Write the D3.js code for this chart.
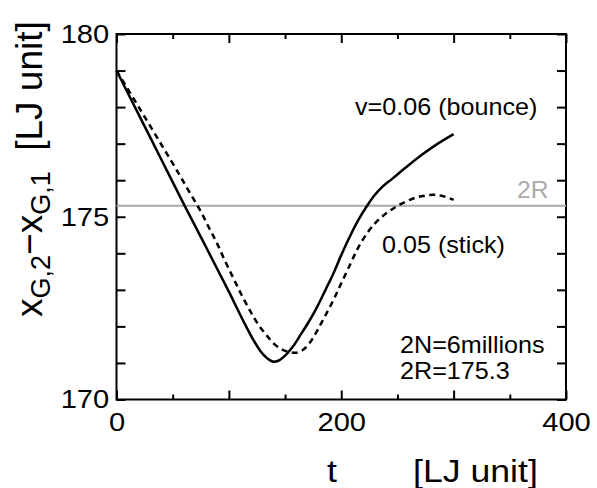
<!DOCTYPE html>
<html>
<head>
<meta charset="utf-8">
<script src="https://cdn.jsdelivr.net/npm/d3@7"></script>
<style>
  html, body { margin: 0; padding: 0; background: #fff; }
  text { font-family: "Liberation Sans", Arial, Helvetica, sans-serif; }
</style>
</head>
<body>
<svg id="chart" width="597" height="488"></svg>
<script>
// ---- data ----
const bounceT = [0, 20, 40, 60, 75, 90, 100, 108, 115, 122, 128, 134, 139, 144, 150, 157, 164, 171, 178, 186, 193, 200, 208, 215, 223, 230, 237, 245, 258, 272, 286, 300];
const bounceX = [179.0, 177.78, 176.56, 175.34, 174.45, 173.55, 172.95, 172.45, 172.02, 171.62, 171.33, 171.13, 171.04, 171.06, 171.2, 171.45, 171.78, 172.12, 172.5, 173.0, 173.45, 173.95, 174.48, 174.9, 175.3, 175.6, 175.83, 176.03, 176.36, 176.7, 177.0, 177.26];
const stickT  = [0, 20, 40, 55, 65, 74, 82, 89, 96, 104, 111, 119, 126, 134, 141, 148, 154, 160, 166, 172, 178, 185, 193, 200, 208, 215, 223, 230, 237, 245, 252, 260, 267, 275, 282, 290, 300];
const stickX  = [179.0, 177.99, 176.97, 176.2, 175.67, 175.2, 174.72, 174.3, 173.83, 173.32, 172.88, 172.42, 172.06, 171.74, 171.5, 171.36, 171.3, 171.28, 171.36, 171.55, 171.85, 172.25, 172.72, 173.18, 173.7, 174.15, 174.55, 174.82, 175.02, 175.2, 175.33, 175.45, 175.53, 175.58, 175.6, 175.57, 175.46];
const twoR = 175.3;
const xMajorTicks = [0, 100, 200, 300, 400];
const xMinorTicks = [50, 150, 250, 350];
const xTickLabels = [0, 200, 400];
const yTicks      = [170, 171, 172, 173, 174, 175, 176, 177, 178, 179, 180];
const yTickLabels = [170, 175, 180];

// ---- layout ----
const svg = d3.select("#chart");
const L = 116.5, R = 566, T = 34, B = 399.5;
const x = d3.scaleLinear().domain([0, 400]).range([L, R]);
const y = d3.scaleLinear().domain([170, 180]).range([B, T]);

function styleAxis(g) {
  g.select(".domain").remove();
  g.selectAll("line").attr("stroke", "#000").attr("stroke-width", 2);
  g.selectAll("text").attr("font-size", 26).attr("fill", "#000")
    .attr("font-family", "Liberation Sans, Arial, sans-serif");
}

// bottom major
svg.append("g").attr("transform", `translate(0,${B})`)
  .call(d3.axisBottom(x).tickValues(xMajorTicks).tickSizeInner(-9).tickSizeOuter(0).tickPadding(13)
    .tickFormat(d => xTickLabels.includes(d) ? d : ""))
  .call(styleAxis)
  .call(g => g.selectAll("text").attr("transform", "scale(1.12,1)"));
// bottom minor
svg.append("g").attr("transform", `translate(0,${B})`)
  .call(d3.axisBottom(x).tickValues(xMinorTicks).tickSizeInner(-5).tickSizeOuter(0).tickFormat(""))
  .call(styleAxis);
// top
svg.append("g").attr("transform", `translate(0,${T})`)
  .call(d3.axisTop(x).tickValues(xMajorTicks).tickSizeInner(-9).tickSizeOuter(0).tickFormat(""))
  .call(styleAxis);
svg.append("g").attr("transform", `translate(0,${T})`)
  .call(d3.axisTop(x).tickValues(xMinorTicks).tickSizeInner(-5).tickSizeOuter(0).tickFormat(""))
  .call(styleAxis);
// left
svg.append("g").attr("transform", `translate(${L},0)`)
  .call(d3.axisLeft(y).tickValues(yTicks).tickSizeInner(-9).tickSizeOuter(0).tickPadding(6.5)
    .tickFormat(d => yTickLabels.includes(d) ? d : ""))
  .call(styleAxis)
  .call(g => g.selectAll("text").attr("transform", "scale(1.12,1)"));
// right
svg.append("g").attr("transform", `translate(${R},0)`)
  .call(d3.axisRight(y).tickValues(yTicks).tickSizeInner(-9).tickSizeOuter(0).tickFormat(""))
  .call(styleAxis);

// frame
svg.append("rect").attr("x", L).attr("y", T).attr("width", R - L).attr("height", B - T)
  .attr("fill", "none").attr("stroke", "#000").attr("stroke-width", 2);

// 2R line
svg.append("line").attr("x1", x(0)).attr("x2", x(400)).attr("y1", y(twoR)).attr("y2", y(twoR))
  .attr("stroke", "#aaaaaa").attr("stroke-width", 2);

// curves
const line = d3.line().x(d => x(d[0])).y(d => y(d[1])).curve(d3.curveCatmullRom.alpha(0.5));
svg.append("path").datum(bounceT.map((t, i) => [t, bounceX[i]]))
  .attr("d", line).attr("fill", "none").attr("stroke", "#000").attr("stroke-width", 2.5)
  .attr("stroke-linejoin", "round");
svg.append("path").datum(stickT.map((t, i) => [t, stickX[i]]))
  .attr("d", line).attr("fill", "none").attr("stroke", "#000").attr("stroke-width", 2.5)
  .attr("stroke-dasharray", "6,4.5");

// text helper
function label(px, py, str, size, sx, anchor, color) {
  return svg.append("text").attr("transform", `translate(${px},${py}) scale(${sx},1)`)
    .attr("font-size", size).attr("text-anchor", anchor || "start")
    .attr("fill", color || "#000").text(str);
}
label(355, 115, "v=0.06 (bounce)", 23.5, 1.07);
label(382, 253, "0.05 (stick)", 23.5, 1.07);
label(400, 353, "2N=6millions", 23.5, 1.07);
label(400, 379, "2R=175.3", 23.5, 1.07);
label(517, 198, "2R", 23, 1.07, "start", "#aaaaaa");
label(332, 482, "t", 31, 1.15, "middle");
label(413, 482, "[LJ unit]", 31, 1.15);

// y title
const yt = svg.append("text").attr("transform", "translate(42,317) rotate(-90)")
  .attr("font-size", 37).attr("fill", "#000");
yt.append("tspan").text("x");
yt.append("tspan").attr("font-size", 27).attr("dy", 8).text("G,2");
yt.append("tspan").attr("dy", -8).text("−x");
yt.append("tspan").attr("font-size", 27).attr("dy", 8).text("G,1");
yt.append("tspan").attr("dy", -8).text("\u00a0\u00a0[LJ unit]");
</script>
</body>
</html>
